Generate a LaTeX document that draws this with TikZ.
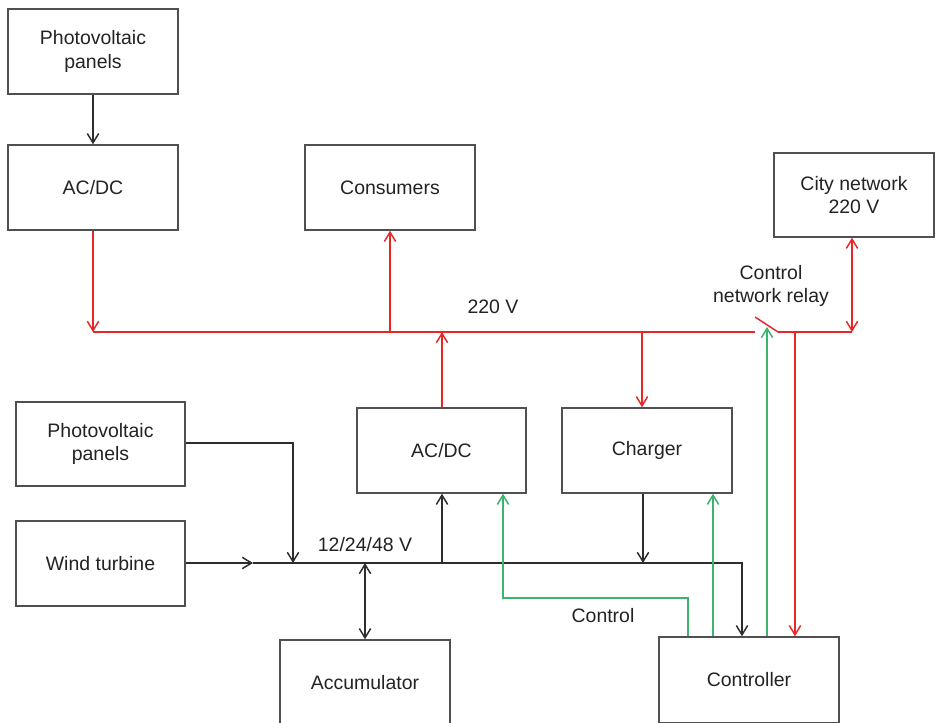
\documentclass[tikz,border=0pt]{standalone}
\usepackage{fontspec}
\setmainfont{Liberation Sans}
\usetikzlibrary{arrows.meta}
\definecolor{bred}{RGB}{232,38,38}
\definecolor{bgreen}{RGB}{60,180,110}
\definecolor{bline}{RGB}{45,45,45}
\definecolor{bbox}{RGB}{80,80,80}
\definecolor{btext}{RGB}{35,35,35}
\begin{document}
\begin{tikzpicture}[x=0.75pt,y=-0.75pt,
  >={Straight Barb[length=7pt,width=8.5pt]},
  box/.style={draw=bbox,line width=1.1pt,inner sep=0pt,align=center,text=btext,
    font=\fontsize{14.6}{17.3}\selectfont,minimum width=127.5pt,minimum height=63.75pt},
  lbl/.style={align=center,text=btext,font=\fontsize{14.6}{17.3}\selectfont,inner sep=0pt},
  blk/.style={draw=bline,line width=1.1pt},
  rd/.style={draw=bred,line width=1.1pt},
  gr/.style={draw=bgreen,line width=1.1pt}]
\useasboundingbox (0,0) rectangle (936,723);
\clip (0,0) rectangle (936,723);
\fill[white] (0,0) rectangle (936,723);
% boxes
\node[box] (pv1) at (93,51.5) {Photovoltaic\\panels};
\node[box] (acdc1) at (93,187.5) {AC/DC};
\node[box] (cons) at (390,187.5) {Consumers};
\node[box,minimum width=120pt,minimum height=63pt] (city) at (854,195) {City network\\220 V};
\node[box,minimum width=126.75pt,minimum height=63pt] (pv2) at (100.5,444) {Photovoltaic\\panels};
\node[box,minimum width=126.75pt] (wind) at (100.5,563.5) {Wind turbine};
\node[box,minimum width=126.75pt] (acdc2) at (441.5,450.5) {AC/DC};
\node[box] (charger) at (647,450.5) {Charger};
\node[box] (accu) at (365,682.5) {Accumulator};
\node[box,minimum width=135pt,minimum height=64.5pt] (ctrl) at (749,680) {Controller};
% labels
\node[lbl] (l220) at (493,307) {220 V};
\node[lbl] (lrelay) at (771,286) {Control\\network relay};
\node[lbl] (l12) at (365,545) {12/24/48 V};
\node[lbl] (lctrl) at (603,616) {Control};
% coordinates 220 V bus
\coordinate (busL) at (93,332);
\coordinate (relayA) at (755,332);
\coordinate (relayT) at (755,317);
\coordinate (relayB) at (778,332);
\coordinate (busR) at (852,332);
\coordinate (bCons) at (390,332);
\coordinate (bAcdc) at (442,332);
\coordinate (bChg) at (642,332);
\coordinate (bRed) at (795,332);
\coordinate (gRelay) at (767,327);
% coordinates low bus
\coordinate (wArr) at (253,563);
\coordinate (lbEnd) at (742,563);
\coordinate (pvC) at (293,443);
\coordinate (pvB) at (293,563);
\coordinate (bAccu) at (365,563);
\coordinate (bAcdc2) at (442,563);
\coordinate (bChg2) at (643,563);
\coordinate (gA) at (688,598);
\coordinate (gB) at (503,598);
\coordinate (gC) at (713,598);
% black connectors
\draw[blk,->] (pv1) -- (acdc1);
\draw[blk,->] (wind.east |- wArr) -- (wArr);
\draw[blk,->] (wArr) -- (lbEnd) -- (lbEnd |- ctrl.north);
\draw[blk,->] (pv2.east |- pvC) -- (pvC) -- (pvB);
\draw[blk,<->] (accu.north -| bAccu) -- (bAccu);
\draw[blk,->] (bAcdc2) -- (bAcdc2 |- acdc2.south);
\draw[blk,->] (bChg2 |- charger.south) -- (bChg2);
% red connectors
\draw[rd,->] (acdc1.south) -- (busL);
\draw[rd] (busL) -- (relayA);
\draw[rd] (relayT) -- (relayB);
\draw[rd] (relayB) -- (busR);
\draw[rd,<->] (busR) -- (busR |- city.south);
\draw[rd,->] (bCons) -- (bCons |- cons.south);
\draw[rd,->] (bAcdc |- acdc2.north) -- (bAcdc);
\draw[rd,->] (bChg) -- (bChg |- charger.north);
\draw[rd,->] (bRed) -- (bRed |- ctrl.north);
% green connectors
\draw[gr,->] (gRelay |- ctrl.north) -- (gRelay);
\draw[gr,->] (gA |- ctrl.north) -- (gA) -- (gB) -- (gB |- acdc2.south);
\draw[gr,->] (gC |- ctrl.north) -- (gC |- charger.south);
\end{tikzpicture}
\end{document}
